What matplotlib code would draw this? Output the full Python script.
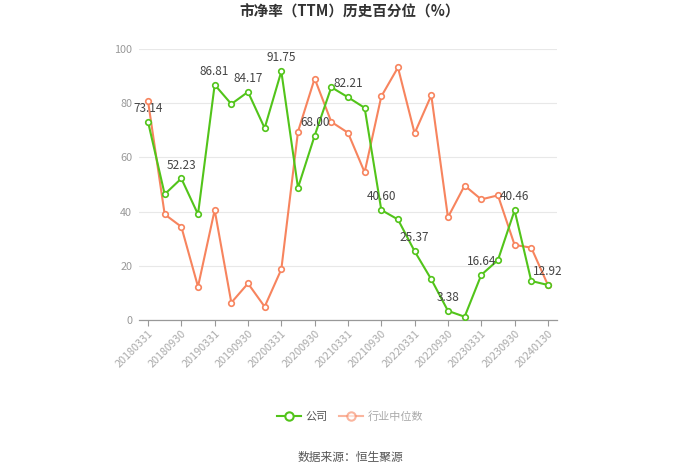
import matplotlib
matplotlib.use("Agg")
import matplotlib.pyplot as plt
from matplotlib.lines import Line2D

plt.rcParams['font.family'] = ['Noto Sans CJK SC', 'DejaVu Sans']

dates = ["20180331", "20180630", "20180930", "20181231",
         "20190331", "20190630", "20190930", "20191231",
         "20200331", "20200630", "20200930", "20201231",
         "20210331", "20210630", "20210930", "20211231",
         "20220331", "20220630", "20220930", "20221231",
         "20230331", "20230630", "20230930", "20231231",
         "20240130"]
company = [73.14, 46.4, 52.23, 39.0, 86.81, 79.7, 84.17, 70.8, 91.75, 48.8,
           68.00, 85.9, 82.21, 78.3, 40.60, 37.1, 25.37, 15.0, 3.38, 1.2,
           16.64, 22.1, 40.46, 14.4, 12.92]
industry = [80.8, 39.0, 34.4, 12.3, 40.6, 6.4, 13.5, 4.9, 18.7, 69.5,
            89.1, 73.1, 69.1, 54.5, 82.5, 93.2, 68.9, 82.9, 37.9, 49.6,
            44.5, 46.0, 27.7, 26.7, 12.9]
yticks = [0, 20, 40, 60, 80, 100]

green = '#52c41a'
orange = '#f7845e'

fig = plt.figure(figsize=(7, 4.74), dpi=100)
ax = fig.add_axes([0.1986, 0.3249, 0.597, 0.5717])

x = list(range(len(dates)))
ax.plot(x, industry, color=orange, lw=1.5, marker='o', ms=4,
        mfc='white', mec=orange, mew=1.2, zorder=3)
ax.plot(x, company, color=green, lw=1.5, marker='o', ms=4,
        mfc='white', mec=green, mew=1.2, zorder=4)

for i in range(0, len(dates), 2):
    ax.annotate(f"{company[i]:.2f}", (x[i], company[i]), xytext=(0, 5),
                textcoords='offset points', ha='center', va='bottom',
                fontsize=8.5, color='#444444', zorder=5)

ax.set_xlim(-0.54, len(dates) - 1 + 0.54)
ax.set_ylim(0, 100)
ax.set_yticks(yticks)
ax.set_yticklabels([str(v) for v in yticks])
ax.set_xticks(x[::2])
ax.set_xticklabels(dates[::2], rotation=45, ha='right', rotation_mode='anchor')

ax.tick_params(axis='y', length=0, labelsize=7.8, colors='#999999', pad=5)
ax.tick_params(axis='x', length=4, width=0.8, color='#999999',
               labelsize=7.8, labelcolor='#aaaaaa', pad=2)
ax.grid(axis='y', color='#e8e8e8', lw=0.8)
ax.set_axisbelow(True)
for s in ['top', 'right', 'left']:
    ax.spines[s].set_visible(False)
ax.spines['bottom'].set_color('#999999')
ax.spines['bottom'].set_linewidth(0.9)

fig.text(0.5, 1 - 12 / 474, "市净率（TTM）历史百分位（%）", ha='center', va='center',
         fontsize=10.5, fontweight='bold', color='#333333')

handles = [Line2D([], [], color=green, lw=1.5, marker='o', ms=6, mfc='white', mec=green, mew=1.5),
           Line2D([], [], color=orange, lw=1.5, marker='o', ms=6, mfc='white', mec=orange, mew=1.5, alpha=0.6)]
leg = fig.legend(handles, ["公司", "行业中位数"], loc='center',
                 bbox_to_anchor=(0.5, 1 - 417 / 474), ncol=2, frameon=False,
                 fontsize=8, handlelength=2.2, columnspacing=1.0, handletextpad=0.4)
leg.get_texts()[0].set_color('#555555')
leg.get_texts()[1].set_color('#aaaaaa')

fig.text(0.5, 1 - 457 / 474, "数据来源：恒生聚源", ha='center', va='center',
         fontsize=8.5, color='#555555')

fig.savefig("out.png", dpi=100, facecolor='white')
